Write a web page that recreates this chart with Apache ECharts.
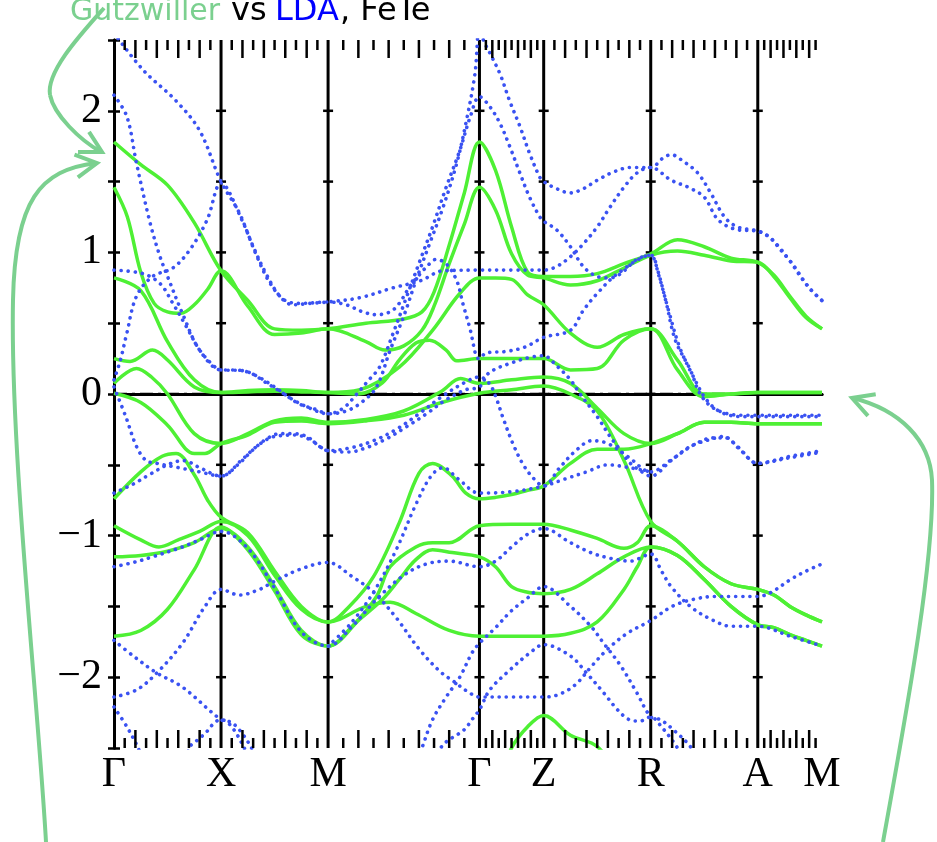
<!DOCTYPE html>
<html><head><meta charset="utf-8">
<script src="https://cdn.jsdelivr.net/npm/echarts@6/dist/echarts.min.js"></script>
<style>html,body{margin:0;padding:0;background:#fff}#c{width:937px;height:842px}</style>
</head><body><div id="c"></div>
<script>
// ---- k-path ----
const kNames = ['Γ','X','M','Γ','Z','R','A','M'];
const segLengths = [1, 1, 1.4142, 0.6, 1, 1, 0.6];
const yTickLabels = [-2, -1, 0, 1, 2];
// band data: [t, E] where t = segment index + fraction along segment
// Gutzwiller / Wannier bands (green)
const g1 = [[0,1.78],[0.25,1.62],[0.5,1.475],[0.75,1.21],[1,0.87],[1.25,0.66],[1.5,0.46],[1.75,0.45],[2,0.46],[2.25,0.50],[2.5,0.53],[2.62,0.58],[2.7,0.72],[2.8,1.05],[2.9,1.42],[3,1.78],[3.25,1.58],[3.5,1.18],[3.75,0.86],[4,0.83],[4.25,0.83],[4.5,0.85],[4.75,0.92],[5,0.99],[5.25,1.09],[5.5,1.04],[5.75,0.96],[6,0.93],[6.25,0.84],[6.5,0.69],[6.75,0.55],[7,0.46]];
const g2 = [[0,1.46],[0.125,1.25],[0.25,0.86],[0.375,0.64],[0.5,0.58],[0.625,0.57],[0.75,0.63],[0.875,0.74],[1,0.87],[1.25,0.62],[1.5,0.42],[1.75,0.43],[2,0.46],[2.25,0.37],[2.375,0.31],[2.5,0.34],[2.62,0.45],[2.7,0.62],[2.8,0.92],[2.9,1.2],[3,1.46],[3.25,1.30],[3.5,0.99],[3.75,0.84],[4,0.82],[4.25,0.77],[4.5,0.80],[4.75,0.89],[5,0.98],[5.25,1.01],[5.5,0.98],[5.75,0.94],[6,0.93],[6.25,0.83],[6.5,0.68],[6.75,0.54],[7,0.46]];
const g3 = [[0,0.82],[0.25,0.73],[0.5,0.37],[0.75,0.10],[1,0.01],[1.25,0.025],[1.5,0.03],[1.75,0.025],[2,0.01],[2.21,0.03],[2.47,0.19],[2.69,0.45],[2.87,0.71],[3,0.82],[3.25,0.82],[3.5,0.81],[3.75,0.70],[4,0.63],[4.25,0.43],[4.5,0.33],[4.75,0.42],[5,0.46],[5.25,0.17],[5.5,-0.02],[5.75,0.0],[6,0.01],[6.5,0.01],[7,0.01]];
const g4 = [[0,0.25],[0.15,0.23],[0.36,0.31],[0.5,0.24],[0.75,0.05],[1,0.01],[1.25,0.015],[1.5,0.02],[1.75,0.015],[2,0.01],[2.2,0.0],[2.36,0.08],[2.47,0.24],[2.58,0.36],[2.67,0.38],[2.78,0.31],[2.85,0.235],[3,0.25],[3.5,0.25],[4,0.25],[4.25,0.17],[4.5,0.18],[4.75,0.38],[5,0.46],[5.25,0.24],[5.5,0.0],[5.75,0.0],[6,0.01],[6.5,0.01],[7,0.01]];
const g5 = [[0,0.075],[0.21,0.18],[0.35,0.12],[0.5,0.0],[0.75,-0.28],[1,-0.35],[1.25,-0.28],[1.5,-0.19],[1.75,-0.17],[2,-0.2],[2.25,-0.18],[2.5,-0.12],[2.75,0.02],[2.875,0.11],[3,0.075],[3.5,0.10],[4,0.12],[4.25,0.075],[4.5,-0.1],[4.75,-0.28],[5,-0.35],[5.25,-0.28],[5.5,-0.20],[5.75,-0.20],[6,-0.21],[7,-0.21]];
const g6 = [[0,0.005],[0.25,-0.06],[0.5,-0.22],[0.75,-0.42],[0.85,-0.42],[1,-0.35],[1.25,-0.29],[1.5,-0.2],[1.75,-0.19],[2,-0.21],[2.25,-0.19],[2.5,-0.15],[2.75,-0.06],[3,0.005],[3.5,0.03],[4,0.056],[4.25,0.0],[4.5,-0.12],[4.75,-0.47],[5,-0.9],[5.25,-1.04],[5.5,-1.22],[5.75,-1.34],[6,-1.38],[6.25,-1.42],[6.5,-1.50],[6.75,-1.56],[7,-1.61]];
const g7 = [[0,-0.74],[0.25,-0.55],[0.45,-0.44],[0.58,-0.42],[0.75,-0.57],[0.875,-0.75],[1,-0.87],[1.25,-0.98],[1.5,-1.25],[1.75,-1.50],[2,-1.61],[2.14,-1.50],[2.30,-1.29],[2.47,-0.91],[2.60,-0.56],[2.69,-0.49],[2.82,-0.58],[2.91,-0.70],[3,-0.74],[3.25,-0.73],[3.5,-0.71],[3.75,-0.68],[4,-0.65],[4.25,-0.49],[4.5,-0.39],[4.75,-0.39],[5,-0.35],[5.25,-0.28],[5.5,-0.2],[5.75,-0.2],[6,-0.21],[7,-0.21]];
const g8 = [[0,-0.93],[0.25,-1.03],[0.42,-1.08],[0.6,-1.03],[0.8,-0.97],[1,-0.90],[1.25,-1.0],[1.5,-1.28],[1.75,-1.52],[2,-1.61],[2.25,-1.50],[2.41,-1.47],[2.58,-1.55],[2.80,-1.67],[3,-1.71],[3.5,-1.71],[4,-1.71],[4.25,-1.69],[4.5,-1.61],[4.75,-1.38],[4.875,-1.22],[5,-1.08],[5.25,-1.14],[5.5,-1.31],[5.75,-1.50],[6,-1.63],[6.25,-1.65],[6.5,-1.70],[6.75,-1.74],[7,-1.78]];
const g9 = [[0,-1.15],[0.25,-1.14],[0.5,-1.11],[0.75,-1.05],[1,-0.95],[1.25,-1.08],[1.5,-1.36],[1.75,-1.67],[2,-1.78],[2.16,-1.64],[2.32,-1.43],[2.41,-1.22],[2.58,-1.08],[2.69,-1.05],[2.80,-1.05],[3,-0.93],[3.5,-0.92],[4,-0.92],[4.25,-0.96],[4.5,-1.02],[4.75,-1.09],[4.875,-1.05],[5,-0.93],[5.25,-1.04],[5.5,-1.22],[5.75,-1.34],[6,-1.38],[6.25,-1.42],[6.5,-1.50],[6.75,-1.56],[7,-1.61]];
const g10 = [[0,-1.71],[0.25,-1.67],[0.5,-1.52],[0.75,-1.24],[1,-0.94],[1.25,-1.10],[1.5,-1.39],[1.75,-1.70],[2,-1.78],[2.21,-1.59],[2.36,-1.45],[2.47,-1.31],[2.58,-1.17],[2.69,-1.10],[2.82,-1.12],[3,-1.15],[3.25,-1.22],[3.5,-1.36],[3.75,-1.40],[4,-1.41],[4.25,-1.38],[4.5,-1.27],[4.75,-1.15],[5,-1.08],[5.25,-1.14],[5.5,-1.31],[5.75,-1.50],[6,-1.63],[6.25,-1.65],[6.5,-1.70],[6.75,-1.74],[7,-1.78]];
const g11 = [[3.3,-2.75],[3.5,-2.5],[3.75,-2.35],[4,-2.27],[4.25,-2.41],[4.5,-2.49],[4.7,-2.7]];
// LDA bands (blue, dotted)
const b1 = [[0,2.55],[0.27,2.29],[0.58,2.07],[0.8,1.86],[1,1.5],[1.17,1.28],[1.29,1.06],[1.42,0.85],[1.55,0.69],[1.67,0.63],[1.83,0.64],[2,0.65],[2.21,0.68],[2.43,0.75],[2.61,0.80],[2.76,0.87],[3,0.875],[3.5,0.875],[4,0.875],[4.12,0.90],[4.25,0.97],[4.37,1.06],[4.5,1.18],[4.62,1.32],[4.75,1.46],[4.87,1.56],[5,1.6],[5.19,1.51],[5.35,1.46],[5.5,1.39],[5.63,1.23],[5.81,1.16],[6,1.15],[6.15,1.12],[6.31,1.05],[6.45,0.97],[6.57,0.90],[6.78,0.76],[7,0.66]];
const b2 = [[0,2.11],[0.12,1.96],[0.21,1.63],[0.34,1.2],[0.43,0.97],[0.49,0.85],[0.65,0.55],[0.8,0.31],[1,0.17],[1.11,0.17],[1.27,0.15],[1.42,0.08],[1.57,0.01],[1.73,-0.07],[1.89,-0.11],[2,-0.14],[2.1,-0.1],[2.19,0.0],[2.27,0.1],[2.34,0.19],[2.43,0.43],[2.52,0.69],[2.61,0.95],[2.69,1.18],[2.78,1.46],[2.87,1.72],[2.94,1.96],[3,2.1],[3.16,2.03],[3.32,1.91],[3.47,1.75],[3.63,1.56],[3.78,1.39],[3.94,1.25],[4,1.22],[4.12,1.16],[4.25,1.04],[4.37,0.90],[4.5,0.83],[4.62,0.82],[4.72,0.85],[4.87,0.95],[5,0.98],[5.05,0.91],[5.14,0.66],[5.23,0.38],[5.37,0.17],[5.47,-0.01],[5.61,-0.11],[5.84,-0.15],[6,-0.15],[6.5,-0.15],[7,-0.15]];
const b3 = [[0,0.875],[0.27,0.85],[0.43,0.78],[0.55,0.64],[0.68,0.47],[0.8,0.31],[0.93,0.2],[1,0.17],[1.2,0.165],[1.35,0.12],[1.5,0.05],[1.65,-0.03],[1.8,-0.09],[2,-0.14],[2.12,-0.12],[2.22,-0.06],[2.32,0.05],[2.41,0.31],[2.5,0.55],[2.58,0.80],[2.67,1.06],[2.76,1.32],[2.85,1.63],[2.91,1.91],[2.97,2.26],[3,2.6],[3.06,2.5],[3.16,2.41],[3.32,2.26],[3.47,2.07],[3.63,1.89],[3.78,1.70],[3.94,1.53],[4,1.5],[4.12,1.45],[4.25,1.42],[4.37,1.45],[4.5,1.51],[4.66,1.57],[4.81,1.6],[5,1.6],[5.12,1.67],[5.19,1.69],[5.31,1.64],[5.44,1.56],[5.56,1.42],[5.69,1.25],[5.81,1.18],[6,1.15],[6.2,1.10],[6.35,1.02],[6.5,0.94],[6.65,0.84],[6.82,0.74],[7,0.66]];
const b4 = [[0,0.1],[0.06,0.24],[0.12,0.43],[0.21,0.69],[0.36,0.83],[0.55,0.89],[0.71,1.02],[0.87,1.23],[1,1.49],[1.2,1.22],[1.33,0.98],[1.46,0.78],[1.6,0.66],[1.75,0.64],[2,0.65],[2.12,0.63],[2.23,0.58],[2.32,0.56],[2.41,0.58],[2.47,0.64],[2.54,0.76],[2.61,0.85],[2.67,0.92],[2.71,0.95],[2.78,0.92],[2.85,0.80],[2.89,0.64],[2.94,0.45],[2.98,0.26],[3,0.25],[3.1,0.29],[3.4,0.30],[3.7,0.33],[4,0.40],[4.25,0.45],[4.37,0.59],[4.5,0.71],[4.69,0.85],[5,0.98],[5.07,0.85],[5.17,0.58],[5.27,0.33],[5.4,0.12],[5.52,-0.04],[5.66,-0.13],[5.85,-0.16],[6,-0.16],[7,-0.16]];
const b5 = [[0,0.05],[0.11,-0.16],[0.21,-0.37],[0.3,-0.47],[0.4,-0.49],[0.6,-0.52],[0.8,-0.55],[1,-0.58],[1.17,-0.49],[1.29,-0.40],[1.42,-0.32],[1.55,-0.28],[1.67,-0.28],[1.8,-0.30],[1.92,-0.37],[2,-0.40],[2.14,-0.41],[2.25,-0.38],[2.38,-0.32],[2.52,-0.23],[2.65,-0.14],[2.78,-0.04],[2.91,0.03],[3,0.05],[3.15,0.15],[3.5,0.22],[3.8,0.26],[4,0.27],[4.12,0.2],[4.25,0.1],[4.34,0.0],[4.5,-0.16],[4.62,-0.30],[4.72,-0.40],[4.81,-0.49],[4.94,-0.56],[5,-0.58],[5.19,-0.47],[5.37,-0.37],[5.56,-0.32],[5.68,-0.30],[5.81,-0.37],[6,-0.49],[6.25,-0.47],[6.5,-0.44],[6.75,-0.42],[7,-0.40]];
const b6 = [[0,-0.70],[0.17,-0.64],[0.33,-0.57],[0.5,-0.50],[0.65,-0.47],[0.8,-0.52],[1,-0.58],[1.2,-0.46],[1.35,-0.36],[1.5,-0.30],[1.7,-0.29],[1.85,-0.33],[2,-0.40],[2.15,-0.38],[2.3,-0.33],[2.45,-0.25],[2.6,-0.14],[2.75,-0.02],[2.9,0.08],[3,0.12],[3.16,0.07],[3.27,-0.04],[3.36,-0.16],[3.52,-0.35],[3.67,-0.49],[3.83,-0.59],[4,-0.65],[4.15,-0.52],[4.3,-0.40],[4.45,-0.33],[4.6,-0.35],[4.8,-0.45],[5,-0.55],[5.2,-0.46],[5.4,-0.36],[5.58,-0.31],[5.7,-0.31],[5.83,-0.39],[6,-0.49],[6.5,-0.45],[7,-0.41]];
const b7 = [[0,-1.22],[0.18,-1.19],[0.36,-1.15],[0.64,-1.08],[0.8,-1.03],[1,-0.97],[1.25,-1.09],[1.5,-1.37],[1.75,-1.68],[2,-1.78],[2.16,-1.64],[2.32,-1.45],[2.5,-1.28],[2.65,-1.2],[2.8,-1.18],[3,-1.22],[3.25,-1.18],[3.5,-1.08],[3.75,-0.99],[4,-0.95],[4.25,-1.05],[4.44,-1.12],[4.62,-1.16],[4.81,-1.18],[5,-1.13],[5.1,-1.25],[5.19,-1.36],[5.37,-1.50],[5.56,-1.59],[5.75,-1.64],[6,-1.64],[6.5,-1.71],[7,-1.78]];
const b8 = [[0,-2.14],[0.21,-2.09],[0.4,-1.97],[0.64,-1.76],[0.85,-1.5],[1,-1.38],[1.17,-1.42],[1.36,-1.38],[1.48,-1.33],[1.73,-1.24],[2,-1.19],[2.16,-1.29],[2.3,-1.40],[2.45,-1.58],[2.6,-1.8],[2.74,-1.96],[2.83,-2.03],[2.92,-2.1],[3,-2.14],[3.5,-2.14],[4,-2.14],[4.15,-2.12],[4.3,-2.05],[4.45,-1.92],[4.6,-1.8],[4.78,-1.69],[5,-1.6],[5.2,-1.5],[5.4,-1.45],[5.6,-1.43],[5.8,-1.43],[6,-1.43],[6.21,-1.40],[6.51,-1.31],[6.71,-1.26],[7,-1.2]];
const b9 = [[0,-1.74],[0.18,-1.85],[0.4,-1.97],[0.64,-2.07],[1,-2.30],[1.1,-2.32],[1.2,-2.40],[1.3,-2.52],[1.45,-2.75],[2,-3.1],[2.45,-2.95],[2.55,-2.7],[2.62,-2.5],[2.69,-2.3],[2.78,-2.14],[2.87,-2.0],[2.95,-1.83],[3,-1.76],[3.25,-1.65],[3.5,-1.53],[3.75,-1.44],[4,-1.36],[4.25,-1.5],[4.44,-1.64],[4.56,-1.76],[4.72,-1.92],[4.87,-2.11],[5,-2.28],[5.09,-2.30],[5.21,-2.37],[5.37,-2.49],[5.5,-2.65]];
const b10 = [[0,-2.21],[0.12,-2.35],[0.22,-2.49],[0.35,-2.7],[0.6,-2.7],[0.71,-2.49],[0.77,-2.45],[0.86,-2.39],[0.94,-2.32],[1,-2.30],[1.1,-2.35],[1.25,-2.55],[1.4,-2.8],[2,-3.1],[2.6,-2.8],[2.75,-2.49],[2.9,-2.37],[2.95,-2.3],[3,-2.23],[3.16,-2.09],[3.47,-1.95],[3.78,-1.83],[4,-1.77],[4.25,-1.85],[4.4,-1.97],[4.56,-2.11],[4.69,-2.23],[4.8,-2.30],[4.9,-2.31],[5,-2.28],[5.1,-2.35],[5.25,-2.5],[5.4,-2.7]];
const b11 = [[2,-1.78],[2.15,-1.62],[2.3,-1.4],[2.45,-1.1],[2.58,-0.78],[2.68,-0.58],[2.76,-0.52],[2.86,-0.6],[3,-0.70],[3.5,-0.69],[4,-0.65],[4.2,-0.6],[4.4,-0.55],[4.6,-0.5],[4.8,-0.52],[5,-0.55]];

const greenBands = [g1,g2,g3,g4,g5,g6,g7,g8,g9,g10,g11];
const blueBands = [b1,b2,b3,b4,b5,b6,b7,b8,b9,b10,b11];

const yMin = -2.5, yMax = 2.5, yStep = 0.5;
const kSym = [0];
segLengths.forEach(l => kSym.push(kSym[kSym.length - 1] + l));
const kMax = kSym[kSym.length - 1];
function kAt(t) {
  const s = Math.min(Math.floor(t), segLengths.length - 1);
  return kSym[s] + (t - s) * segLengths[s];
}
const toXY = band => band.map(([t, e]) => [kAt(t), e]);

const kTicks = [];
segLengths.forEach((l, s) => { for (let i = 1; i < 10; i++) kTicks.push([kSym[s] + l * i / 10, i % 2 === 0 ? 1 : 0]); });
const yTickVals = [];
for (let v = yMin + yStep; v < yMax - 1e-9; v += yStep) yTickVals.push(+v.toFixed(3));

const GREEN = '#4ef034', BLUE = '#3a52f2', ANNO = '#7bd08f';
const series = [];
series.push({
  type: 'custom', z: 1, silent: true, clip: false,
  data: kSym.slice(1, -1).map(k => [k, 0]),
  renderItem: (p, api) => {
    const k = api.value(0);
    const top = api.coord([k, yMax]), bot = api.coord([k, yMin]);
    const ch = [{ type: 'line', shape: { x1: top[0], y1: top[1], x2: bot[0], y2: bot[1] }, style: { stroke: '#000', lineWidth: 3 } }];
    yTickVals.forEach(v => { const c = api.coord([k, v]); ch.push({ type: 'line', shape: { x1: c[0] - 5, y1: c[1], x2: c[0] + 5, y2: c[1] }, style: { stroke: '#000', lineWidth: 2.5 } }); });
    return { type: 'group', children: ch };
  }
});
series.push({ type: 'line', z: 2, silent: true, symbol: 'none', data: [[0, 0], [kMax, 0]], lineStyle: { color: '#000', width: 2.5, type: [13, 5, 3, 5] } });
greenBands.forEach(b => series.push({ type: 'line', z: 3, silent: true, symbol: 'none', smooth: 0.35, data: toXY(b), lineStyle: { color: GREEN, width: 3.5 } }));
blueBands.forEach(b => series.push({ type: 'line', z: 4, silent: true, symbol: 'none', smooth: 0.35, data: toXY(b), lineStyle: { color: BLUE, width: 3.6, type: [0.1, 7], cap: 'round' } }));
series.push({
  type: 'custom', z: 6, silent: true, clip: false,
  data: kTicks,
  renderItem: (p, api) => {
    const k = api.value(0), len = api.value(1) ? 18 : 10;
    const top = api.coord([k, yMax]), bot = api.coord([k, yMin]);
    return { type: 'group', children: [
      { type: 'line', shape: { x1: top[0], y1: top[1], x2: top[0], y2: top[1] + len }, style: { stroke: '#000', lineWidth: 2.5 } },
      { type: 'line', shape: { x1: bot[0], y1: bot[1], x2: bot[0], y2: bot[1] - len }, style: { stroke: '#000', lineWidth: 2.5 } }
    ] };
  }
});

function head(tip, from, len, ang) {
  const dx = tip[0] - from[0], dy = tip[1] - from[1], d = Math.hypot(dx, dy), ux = dx / d, uy = dy / d;
  const r = a => [tip[0] - len * (ux * Math.cos(a) - uy * Math.sin(a)), tip[1] - len * (uy * Math.cos(a) + ux * Math.sin(a))];
  return { type: 'polyline', z: 100, shape: { points: [r(ang), tip, r(-ang)] }, style: { stroke: ANNO, lineWidth: 4, fill: null } };
}
function curve(p0, c1, c2, p1) {
  return { type: 'bezierCurve', z: 100, shape: { x1: p0[0], y1: p0[1], cpx1: c1[0], cpy1: c1[1], cpx2: c2[0], cpy2: c2[1], x2: p1[0], y2: p1[1] }, style: { stroke: ANNO, lineWidth: 4, fill: null } };
}
const titleFont = s => s + 'px "Comic Sans MS","DejaVu Sans",sans-serif';
const graphic = [
  { type: 'text', z: 100, x: 70, y: 27, style: { text: 'Gutzwiller', fill: ANNO, font: titleFont(30), verticalAlign: 'bottom' } },
  { type: 'text', z: 100, x: 231, y: 27.5, style: { text: 'vs', fill: '#000', font: titleFont(32), verticalAlign: 'bottom' } },
  { type: 'text', z: 100, x: 275, y: 27.5, style: { text: 'LDA', fill: '#0000ff', font: titleFont(32), verticalAlign: 'bottom' } },
  { type: 'text', z: 100, x: 340, y: 27.5, style: { text: ', FeTe', fill: '#000', font: titleFont(32), verticalAlign: 'bottom' } },
  curve([104, 8], [80, 35], [46, 72], [50, 95]),
  curve([50, 95], [54, 115], [80, 140], [101, 152]),
  head([102, 152], [80, 140], 24, 0.5),
  curve([46, 842], [38, 700], [10, 450], [13, 300]),
  curve([13, 300], [15, 200], [40, 170], [96, 163]),
  head([97, 163], [70, 167], 24, 0.5),
  curve([883, 842], [905, 720], [935, 560], [932, 480]),
  curve([932, 480], [930, 440], [900, 410], [853, 398]),
  head([852, 398], [880, 408], 24, 0.5)
];

const chart = echarts.init(document.getElementById('c'), null, { renderer: 'canvas' });
chart.setOption({
  animation: false,
  backgroundColor: '#fff',
  grid: { left: 114, top: 40, width: 708, height: 708 },
  xAxis: [
    { type: 'value', position: 'bottom', min: 0, max: kMax, splitLine: { show: false }, axisTick: { show: false },
      axisLine: { lineStyle: { color: '#000', width: 3 } },
      axisLabel: { customValues: kSym, color: '#000', fontFamily: 'Liberation Serif', fontSize: 42, margin: 6,
        formatter: v => { let i = 0, d = 1e9; kSym.forEach((k, j) => { if (Math.abs(k - v) < d) { d = Math.abs(k - v); i = j; } }); return kNames[i]; } } },
    { type: 'value', position: 'top', min: 0, max: kMax, splitLine: { show: false }, axisTick: { show: false }, axisLabel: { show: false },
      axisLine: { lineStyle: { color: '#000', width: 3 } } }
  ],
  yAxis: [
    { type: 'value', position: 'left', min: yMin, max: yMax, interval: yStep, splitLine: { show: false },
      axisLine: { lineStyle: { color: '#000', width: 3 } },
      axisTick: { inside: true, length: 6, lineStyle: { color: '#000', width: 2.5 } },
      axisLabel: { color: '#000', fontFamily: 'Liberation Serif', fontSize: 42, margin: 12,
        formatter: v => yTickLabels.includes(v) ? (v < 0 ? '\u2212' + Math.abs(v) : String(v)) : '' } },
    { type: 'value', position: 'right', min: yMin, max: yMax, interval: yStep, splitLine: { show: false },
      axisLine: { lineStyle: { color: '#000', width: 3 } },
      axisTick: { inside: true, length: 6, lineStyle: { color: '#000', width: 2.5 } }, axisLabel: { show: false } }
  ],
  series: series,
  graphic: graphic
});
</script>
</body></html>
